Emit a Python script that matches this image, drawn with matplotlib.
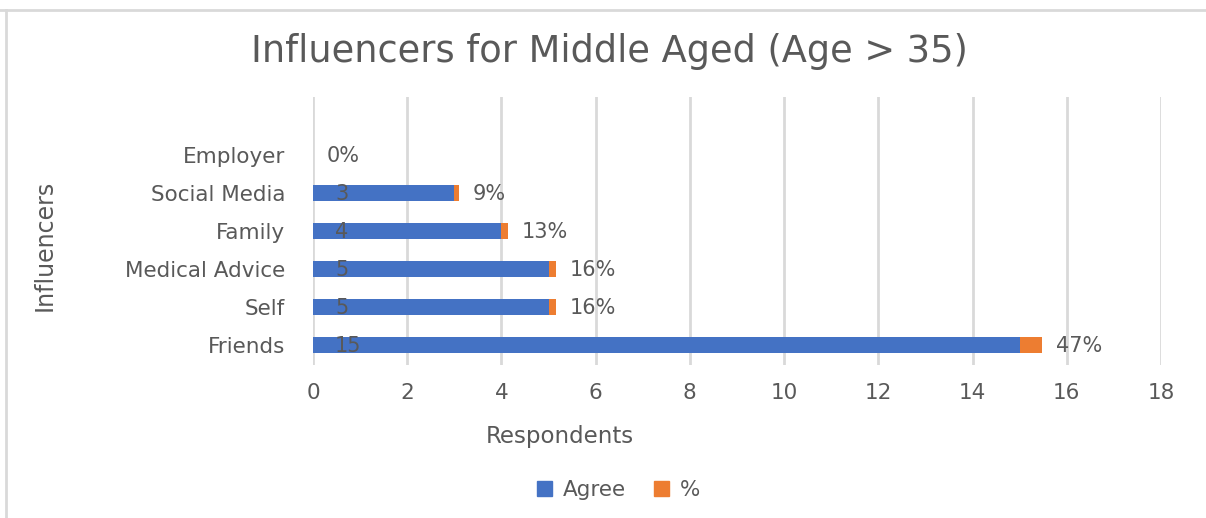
import matplotlib.pyplot as plt
import matplotlib.patches as mpatches
import matplotlib.lines as mlines

# data, bottom to top as drawn
influencers = ['Friends', 'Self', 'Medical Advice', 'Family', 'Social Media', 'Employer']
agree = [15, 5, 5, 4, 3, 0]
pct = [0.47, 0.16, 0.16, 0.13, 0.09, 0.0]
pct_labels = ['47%', '16%', '16%', '13%', '9%', '0%']
xticks = [0, 2, 4, 6, 8, 10, 12, 14, 16, 18]

blue = '#4472C4'
orange = '#ED7D31'
txt = '#595959'
grid = '#D9D9D9'

plt.rcParams['font.family'] = 'DejaVu Sans'

fig = plt.figure(figsize=(12.06, 5.18), dpi=100)
ax = fig.add_axes([0.2595, 0.295, 0.7032, 0.518])

y = list(range(len(influencers)))
ax.barh(y, agree, height=0.42, color=blue, zorder=3)
ax.barh(y, pct, left=agree, height=0.42, color=orange, zorder=3)

for i in y:
    if agree[i] > 0:
        ax.annotate(str(agree[i]), xy=(0, i), xytext=(16, -1), textcoords='offset points',
                    ha='left', va='center', fontsize=15, color=txt, zorder=4)
    ax.annotate(pct_labels[i], xy=(agree[i] + pct[i], i), xytext=(10, -1),
                textcoords='offset points', ha='left', va='center',
                fontsize=15, color=txt, zorder=4)

ax.set_xlim(0, 18)
ax.set_ylim(-0.53, 6.53)
ax.set_xticks(xticks)
ax.set_yticks(y)
ax.set_yticklabels(influencers)
ax.tick_params(axis='both', length=0, labelsize=15.5, colors=txt)
ax.tick_params(axis='x', pad=13)
ax.tick_params(axis='y', pad=20)
for s in ax.spines.values():
    s.set_visible(False)
ax.grid(axis='x', color=grid, linewidth=2, zorder=0)

fig.text(0.464, 0.157, 'Respondents', ha='center', va='center', fontsize=16.5, color=txt)
fig.text(0.037, 0.527, 'Influencers', ha='center', va='center', rotation=90,
         fontsize=17, color=txt)

fig.text(0.505, 0.9, 'Influencers for Middle Aged (Age > 35)', ha='center', va='center',
         fontsize=26.5, color=txt)

handles = [mpatches.Patch(color=blue, label='Agree'), mpatches.Patch(color=orange, label='%')]
fig.legend(handles=handles, loc='center', bbox_to_anchor=(0.513, 0.054), ncol=2, frameon=False,
           fontsize=15.5, labelcolor=txt, handlelength=0.7, handleheight=0.7,
           handletextpad=0.5, columnspacing=1.3)

# outer chart frame (top and left edges visible in the screenshot)
fig.add_artist(mlines.Line2D([0, 1], [0.981, 0.981], transform=fig.transFigure, color=grid, linewidth=2))
fig.add_artist(mlines.Line2D([0.005, 0.005], [0, 0.981], transform=fig.transFigure, color=grid, linewidth=2))

fig.savefig('out.png', dpi=100, facecolor='white')
